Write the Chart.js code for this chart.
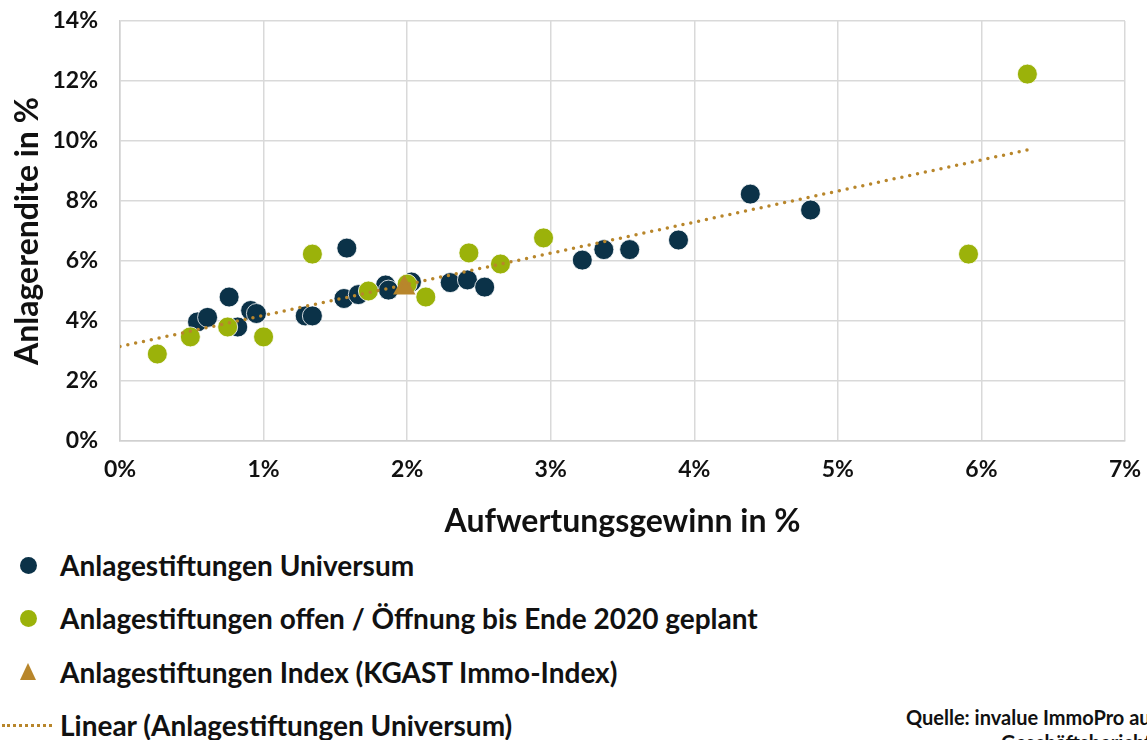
<!DOCTYPE html>
<html>
<head>
<meta charset="utf-8">
<script src="https://cdn.jsdelivr.net/npm/chart.js@4.4.1/dist/chart.umd.min.js"></script>
<style>
  html,body{margin:0;padding:0;background:#fff;overflow:hidden;}
  body{width:1147px;height:740px;position:relative;font-family:Lato,"Open Sans",sans-serif;}
  #wrap{position:absolute;left:0;top:0;width:1147px;height:545px;}
  .legend{position:absolute;left:0;top:540px;}
  .item{position:absolute;left:0;height:40px;white-space:nowrap;font-weight:bold;font-size:28px;color:#111;}
  .item span.t{position:absolute;left:60px;top:0;line-height:40px;}
  .mk{position:absolute;}
  .src{position:absolute;left:906px;top:705px;font-weight:bold;font-size:20px;white-space:nowrap;color:#111;line-height:25px;}
</style>
</head>
<body>
<div id="wrap"><canvas id="chart"></canvas></div>
<div class="legend">
  <div class="item" style="top:5px"><div class="mk" style="left:20px;top:12px;width:17px;height:17px;border-radius:50%;background:#0b3248"></div><span class="t">Anlagestiftungen Universum</span></div>
  <div class="item" style="top:58px"><div class="mk" style="left:20px;top:12px;width:17px;height:17px;border-radius:50%;background:#9bb20a"></div><span class="t">Anlagestiftungen offen / Öffnung bis Ende 2020 geplant</span></div>
  <div class="item" style="top:112px"><div class="mk" style="left:20px;top:11px;width:0;height:0;border-left:8px solid transparent;border-right:8px solid transparent;border-bottom:17px solid #b8862b"></div><span class="t">Anlagestiftungen Index (KGAST Immo-Index)</span></div>
  <div class="item" style="top:165px"><div class="mk" style="left:2px;top:19px;width:50px;border-top:3px dotted #b8862b"></div><span class="t">Linear (Anlagestiftungen Universum)</span></div>
</div>
<div class="src">Quelle: invalue ImmoPro aus<br><span style="padding-left:95px">Geschäftsberichte</span></div>
<script>
// Anlagestiftungen Universum (x = Aufwertungsgewinn %, y = Anlagerendite %)
const universumX = [0.54, 0.61, 0.76, 0.82, 0.91, 0.95, 1.29, 1.34, 1.58, 1.56, 1.66, 1.85, 1.87, 2.03, 2.30, 2.42, 2.54, 3.22, 3.37, 3.55, 3.89, 4.39, 4.81];
const universumY = [3.97, 4.12, 4.80, 3.80, 4.35, 4.25, 4.17, 4.17, 6.43, 4.75, 4.88, 5.20, 5.03, 5.30, 5.28, 5.37, 5.13, 6.03, 6.38, 6.38, 6.70, 8.23, 7.70];
// Anlagestiftungen offen / Öffnung bis Ende 2020 geplant
const offenX = [0.26, 0.49, 0.75, 1.00, 1.34, 1.73, 2.00, 2.13, 2.43, 2.65, 2.95, 5.91, 6.32];
const offenY = [2.90, 3.47, 3.80, 3.47, 6.23, 5.00, 5.23, 4.80, 6.27, 5.90, 6.77, 6.23, 12.23];
// KGAST Immo-Index
const indexX = [1.98];
const indexY = [5.10];
// Linear trend (Universum), end points as read
const trendX = [0, 6.32];
const trendY = [3.15, 9.70];

const xTicks = [0,1,2,3,4,5,6,7];
const yTicks = [0,2,4,6,8,10,12,14];

const pts = (xs, ys) => xs.map((x,i)=>({x, y: ys[i]}));
const font = 'Lato, "Open Sans", sans-serif';

new Chart(document.getElementById('chart'), {
  type: 'scatter',
  data: {
    datasets: [
      { label:'Linear (Anlagestiftungen Universum)', type:'line', data: pts(trendX, trendY),
        borderColor:'#b8862b', borderWidth:3.5, borderDash:[0,8], borderCapStyle:'round',
        pointRadius:0, fill:false, order:0 },
      { label:'Anlagestiftungen Index (KGAST Immo-Index)', data: pts(indexX, indexY),
        pointStyle:'triangle', pointRadius:13, backgroundColor:'#b8862b', borderColor:'#b8862b', borderWidth:0, order:1 },
      { label:'Anlagestiftungen offen / Öffnung bis Ende 2020 geplant', data: pts(offenX, offenY),
        pointRadius:10, backgroundColor:'#9bb20a', borderColor:'#ffffff', borderWidth:0.8, order:2 },
      { label:'Anlagestiftungen Universum', data: pts(universumX, universumY),
        pointRadius:10, backgroundColor:'#0b3248', borderColor:'#ffffff', borderWidth:0.8, order:3 }
    ]
  },
  options: {
    responsive:true, maintainAspectRatio:false, animation:false,
    layout:{ padding:{ left:4, right:22, top:21, bottom:0 } },
    plugins:{ legend:{display:false}, tooltip:{enabled:false} },
    scales:{
      x:{ type:'linear', min:0, max:7,
        afterBuildTicks: s => { s.ticks = xTicks.map(v=>({value:v})); },
        afterFit: s => { s.height = 104; s.paddingLeft = 0; s.paddingRight = 0; },
        grid:{ color:'#d9d9d9', lineWidth:1.5, drawTicks:false },
        border:{ color:'#d0d0d0', width:1.5 },
        ticks:{ padding:15, color:'#111', font:{family:font, size:23, weight:'bold'}, callback:v=>v+'%' },
        title:{ display:true, text:'Aufwertungsgewinn in %', color:'#111', padding:{top:6},
          font:{family:font, size:32, weight:'bold'} }
      },
      y:{ type:'linear', min:0, max:14,
        afterBuildTicks: s => { s.ticks = yTicks.map(v=>({value:v})); },
        afterFit: s => { s.width = 116; s.paddingTop = 0; s.paddingBottom = 0; },
        grid:{ color:'#d9d9d9', lineWidth:1.5, drawTicks:false },
        border:{ color:'#d0d0d0', width:1.5 },
        ticks:{ padding:22, color:'#111', font:{family:font, size:23, weight:'bold'}, callback:v=>v+'%' },
        title:{ display:true, text:'Anlagerendite in %', color:'#111', padding:{bottom:0},
          font:{family:font, size:32, weight:'bold'} }
      }
    }
  }
});
</script>
</body>
</html>
